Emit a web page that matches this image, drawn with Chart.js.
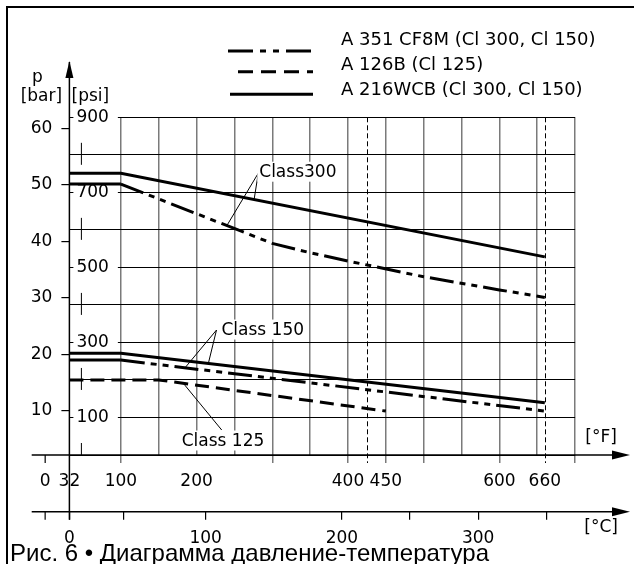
<!DOCTYPE html>
<html>
<head>
<meta charset="utf-8">
<script src="https://cdn.jsdelivr.net/npm/chart.js@4.4.1/dist/chart.umd.min.js"></script>
<style>
  body { margin: 0; background: #fff; }
  #wrap { width: 634px; height: 564px; position: relative; }
</style>
</head>
<body>
<div id="wrap"><canvas id="chart"></canvas></div>
<script>
// temperature in °F, pressure in psi
const cf8m300F = [32, 100, 200, 300, 350, 400, 500, 600, 660];
const cf8m300P = [722, 722, 643, 564, 539, 517, 475, 440, 420];
const cf8m150F = [32, 100, 660];
const cf8m150P = [253, 253, 117];
const a126bF = [32, 100, 150, 450];
const a126bP = [200, 200, 200, 117];
const wcb300F = [32, 100, 660];
const wcb300P = [751, 751, 528];
const wcb150F = [32, 100, 660];
const wcb150P = [271, 271, 139];

const materials = ['A 351 CF8M (Cl 300, Cl 150)', 'A 126B (Cl 125)', 'A 216WCB (Cl 300, Cl 150)'];

const fGrid = [100, 150, 200, 250, 300, 350, 400, 450, 500, 550, 600, 650, 700];
const fLong = [100, 300, 400, 450, 500, 600, 700];
const fLabels = [0, 32, 100, 200, 400, 450, 600, 660];
const fLimits = [425, 660];
const cTicks = [0, 40, 100, 200, 250, 300, 350];
const cLabels = [0, 100, 200, 300];
const psiGrid = [0, 100, 200, 300, 400, 500, 600, 700, 800, 900];
const psiLabels = [100, 300, 500, 700, 900];
const barTicks = [10, 20, 30, 40, 50, 60];

// frame of the plot
const LEFT = 69.4, TOP = 117.3, RIGHT = 58.9;
const F_BAND = 56.7, C_BAND = 52.3;
const F_MIN = 32, F_MAX = 700;
const BAR_MIN = 2.16, BAR_MAX = 61.95;   // the bar scale of the drawing is offset from psi

const FONT = 'DejaVu Sans';
const DASH_DOT = [24, 6, 6, 6, 6, 6];
const DASHED = [14, 7];

function pts(xs, ys) {
  return xs.map((v, i) => ({ x: v, y: ys[i] }));
}

function serie(xs, ys, dash, solidStart) {
  const ds = {
    data: pts(xs, ys),
    showLine: true,
    borderColor: '#000',
    borderWidth: 3,
    pointRadius: 0,
    borderDash: dash,
    fill: false,
    clip: false
  };
  if (solidStart) ds.segment = { borderDash: c => c.p0DataIndex === 0 ? [] : dash };
  return ds;
}

function interp(xs, ys, v) {
  for (let i = 1; i < xs.length; i++) {
    if (v <= xs[i]) {
      const t = (v - xs[i - 1]) / (xs[i] - xs[i - 1]);
      return ys[i - 1] + t * (ys[i] - ys[i - 1]);
    }
  }
  return ys[ys.length - 1];
}

const notes = [
  { text: 'Class300', at: [281.5, 751], dx: 1, dy: 3.5, to: [[cf8m300F, cf8m300P, 240], [wcb300F, wcb300P, 276]] },
  { text: 'Class 150', at: [226.3, 333], dx: 5, dy: 4.5, to: [[cf8m150F, cf8m150P, 184.7], [wcb150F, wcb150P, 215.5]] },
  { text: 'Class 125', at: [233.2, 66.6], dx: -40, dy: 15.5, to: [[a126bF, a126bP, 182.5]] }
];

function seg(ctx, x1, y1, x2, y2) {
  ctx.beginPath();
  ctx.moveTo(x1, y1);
  ctx.lineTo(x2, y2);
  ctx.stroke();
}

function arrow(ctx, tx, ty, dir) {
  ctx.beginPath();
  if (dir === 'up') {
    ctx.moveTo(tx, ty); ctx.lineTo(tx - 4, ty + 17); ctx.lineTo(tx + 4, ty + 17);
  } else {
    ctx.moveTo(tx, ty); ctx.lineTo(tx - 18, ty - 4.5); ctx.lineTo(tx - 18, ty + 4.5);
  }
  ctx.closePath();
  ctx.fill();
}

const decor = {
  id: 'decor',
  beforeDatasetsDraw(chart) {
    const { ctx, chartArea: a, scales: { x, y, xC } } = chart;
    const ax = x.getPixelForValue(F_MIN);
    ctx.save();
    ctx.strokeStyle = '#000';
    ctx.fillStyle = '#000';

    // limit temperatures
    ctx.lineWidth = 1;
    ctx.setLineDash([5, 3]);
    fLimits.forEach(v => {
      const px = Math.round(x.getPixelForValue(v)) + 0.5;
      seg(ctx, px, a.top, px, a.bottom + 8);
    });
    ctx.setLineDash([]);

    // short marks of the psi scale
    psiGrid.filter(v => !psiLabels.includes(v)).forEach(v => {
      const py = y.getPixelForValue(v);
      seg(ctx, ax + 12, py - 12, ax + 12, Math.min(py + 10, a.bottom));
    });

    // axes
    ctx.lineWidth = 1.5;
    seg(ctx, ax, 62, ax, xC.top + 8);
    arrow(ctx, ax, 61, 'up');
    seg(ctx, 31.7, a.bottom, 615, a.bottom);
    arrow(ctx, 630, a.bottom, 'right');
    seg(ctx, 31.7, xC.top, 615, xC.top);
    arrow(ctx, 630, xC.top, 'right');
    ctx.lineWidth = 1.2;
    const z = x.getPixelForValue(0);
    seg(ctx, z, a.bottom, z, a.bottom + 8);
    const zc = xC.getPixelForValue(-17.8);
    seg(ctx, zc, xC.top, zc, xC.top + 8);

    // frame
    ctx.lineWidth = 2;
    seg(ctx, 7, 7, chart.width, 7);
    seg(ctx, 7, 6, 7, chart.height);

    // class notes
    ctx.font = '17px "' + FONT + '"';
    ctx.textBaseline = 'alphabetic';
    notes.forEach(n => {
      const px = x.getPixelForValue(n.at[0]);
      const py = y.getPixelForValue(n.at[1]);
      ctx.lineWidth = 1;
      n.to.forEach(t => {
        seg(ctx, px, py, x.getPixelForValue(t[2]), y.getPixelForValue(interp(t[0], t[1], t[2])));
      });
      const tx = px + n.dx, ty = py + n.dy;
      const w = ctx.measureText(n.text).width;
      ctx.fillStyle = '#fff';
      ctx.fillRect(tx - 2, ty - 15, w + 4, 20);
      ctx.fillStyle = '#000';
      ctx.fillText(n.text, tx, ty);
    });
    ctx.restore();
  },
  afterDraw(chart) {
    const { ctx, chartArea: a, scales: { x, xC } } = chart;
    const ax = x.getPixelForValue(F_MIN);
    ctx.save();
    ctx.fillStyle = '#000';
    ctx.strokeStyle = '#000';

    // axis units
    ctx.font = '17px "' + FONT + '"';
    ctx.textAlign = 'center';
    ctx.textBaseline = 'alphabetic';
    ctx.fillText('p', ax - 32, 82);
    ctx.fillText('[bar]', ax - 28, 101);
    ctx.fillText('[psi]', ax + 21, 101);
    ctx.textBaseline = 'middle';
    ctx.fillText('[°F]', a.right + 26, a.bottom - 17);
    ctx.fillText('[°C]', a.right + 26, xC.top + 16);

    // legend
    const rows = [
      { y: 51, x1: 228, dash: [25, 7, 6, 7, 6, 7] },
      { y: 71.7, x1: 238, dash: [15, 8] },
      { y: 94.3, x1: 230, dash: [] }
    ];
    ctx.lineWidth = 3;
    ctx.textAlign = 'left';
    ctx.font = '18px "' + FONT + '"';
    rows.forEach((r, i) => {
      ctx.setLineDash(r.dash);
      seg(ctx, r.x1, r.y, 313, r.y);
      ctx.setLineDash([]);
      ctx.fillText(materials[i], 341, 40 + i * 25);
    });

    // caption
    ctx.font = '24px "Liberation Sans"';
    ctx.textBaseline = 'alphabetic';
    ctx.fillText('Рис. 6 • Диаграмма давление-температура', 10, 561);
    ctx.restore();
  }
};

const tickFont = { family: FONT, size: 17 };

new Chart(document.getElementById('chart'), {
  type: 'scatter',
  data: {
    datasets: [
      serie(cf8m300F, cf8m300P, DASH_DOT, true),
      serie(cf8m150F, cf8m150P, DASH_DOT, true),
      serie(a126bF, a126bP, DASHED, false),
      serie(wcb300F, wcb300P, [], false),
      serie(wcb150F, wcb150P, [], false)
    ]
  },
  options: {
    responsive: true,
    maintainAspectRatio: false,
    animation: false,
    layout: { padding: { left: 0, top: TOP, right: RIGHT, bottom: 0 } },
    plugins: { legend: { display: false }, tooltip: { enabled: false } },
    scales: {
      x: {
        type: 'linear', position: 'bottom', weight: 0,
        min: F_MIN, max: F_MAX,
        afterBuildTicks: s => { s.ticks = fGrid.map(v => ({ value: v })); },
        afterFit: s => { s.height = 0; },
        ticks: { display: false },
        border: { display: false },
        grid: {
          color: '#7a7a7a', lineWidth: 1.5, drawTicks: true, tickLength: 8,
          tickColor: c => fLong.includes(c.tick.value) ? '#7a7a7a' : 'rgba(0,0,0,0)'
        }
      },
      y: {
        type: 'linear', position: 'left', weight: 0,
        min: 0, max: 900,
        afterBuildTicks: s => { s.ticks = psiGrid.map(v => ({ value: v })); },
        afterFit: s => { s.width = 0; },
        border: { display: false },
        grid: { color: '#000', lineWidth: 1, drawTicks: false },
        ticks: {
          mirror: true, padding: 7, color: '#000', font: tickFont,
          callback: v => psiLabels.includes(v) ? String(v) : '',
          showLabelBackdrop: c => psiLabels.includes(c.tick.value),
          backdropColor: '#fff',
          backdropPadding: { top: 1, bottom: 1, left: 3, right: 9 }
        }
      },
      bar: {
        type: 'linear', axis: 'y', position: 'left', weight: 1,
        min: BAR_MIN, max: BAR_MAX,
        afterBuildTicks: s => { s.ticks = barTicks.map(v => ({ value: v })); },
        afterFit: s => { s.width = LEFT; },
        border: { display: false },
        grid: { drawOnChartArea: false, drawTicks: true, tickLength: 8, color: '#000', lineWidth: 1.2 },
        ticks: { padding: 9, color: '#000', font: tickFont }
      },
      xF: {
        type: 'linear', position: 'bottom', weight: 1,
        min: F_MIN, max: F_MAX,
        afterBuildTicks: s => { s.ticks = fLabels.map(v => ({ value: v })); },
        afterFit: s => { s.height = F_BAND; },
        border: { display: false },
        grid: { display: false, drawTicks: false },
        ticks: { padding: 16, autoSkip: false, maxRotation: 0, color: '#000', font: tickFont }
      },
      xC: {
        type: 'linear', position: 'bottom', weight: 2,
        min: (F_MIN - 32) / 1.8, max: (F_MAX - 32) / 1.8,
        afterBuildTicks: s => { s.ticks = cTicks.map(v => ({ value: v })); },
        afterFit: s => { s.height = C_BAND; },
        border: { display: false },
        grid: { drawOnChartArea: false, drawTicks: true, tickLength: 8, color: '#000', lineWidth: 1.2 },
        ticks: {
          padding: 9, autoSkip: false, maxRotation: 0, color: '#000', font: tickFont,
          callback: v => cLabels.includes(v) ? String(v) : ''
        }
      }
    }
  },
  plugins: [decor]
});
</script>
</body>
</html>
